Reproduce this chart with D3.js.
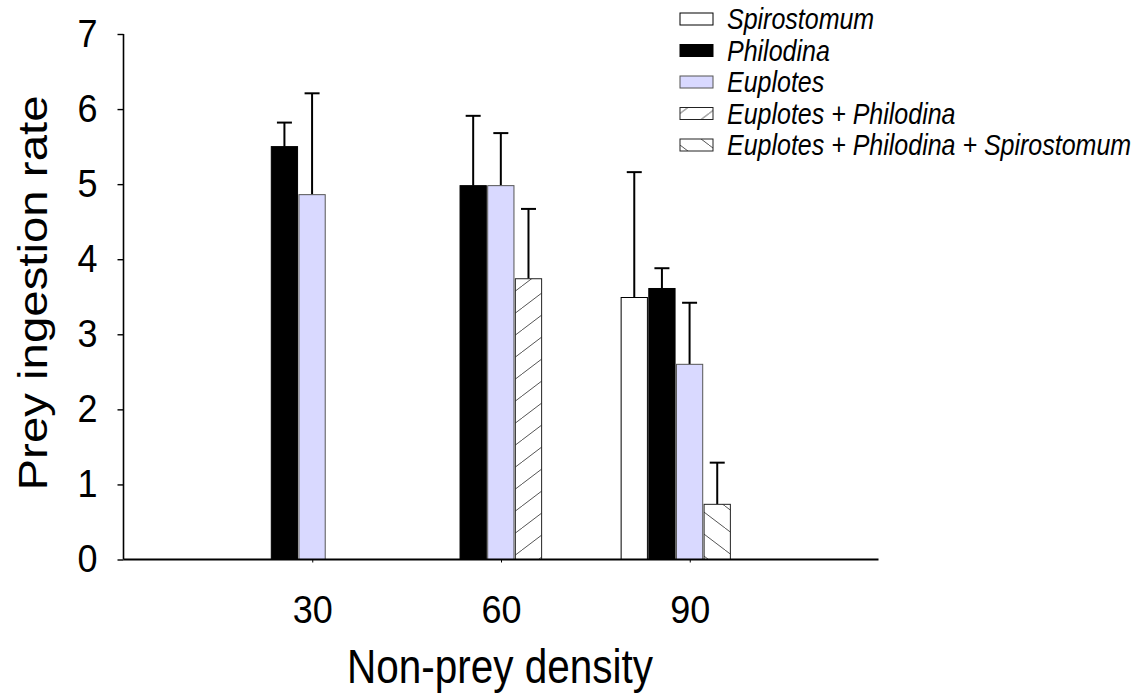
<!DOCTYPE html>
<html>
<head>
<meta charset="utf-8">
<script src="https://cdn.jsdelivr.net/npm/d3@7"></script>
<style>
  body { margin: 0; background: #fff; }
  text { font-family: Arial, "Liberation Sans", sans-serif; fill: #000; }
</style>
</head>
<body>
<svg id="chart" width="1139" height="695"></svg>
<script>
// data
const densities = [30, 60, 90];
const seriesNames = [
  "Spirostomum",
  "Philodina",
  "Euplotes",
  "Euplotes + Philodina",
  "Euplotes + Philodina + Spirostomum",
];
const spirostomum = [null, null, 3.49];
const philodina = [5.5, 4.98, 3.61];
const euplotes = [4.86, 4.98, 2.6];
const euplotesPhilodina = [null, 3.74, null];
const euplotesPhilodinaSpiro = [null, null, 0.735];
const spirostomumErr = [null, null, 1.67];
const philodinaErr = [0.32, 0.93, 0.27];
const euplotesErr = [1.35, 0.7, 0.82];
const euplotesPhilodinaErr = [null, 0.93, null];
const euplotesPhilodinaSpiroErr = [null, null, 0.555];
const yTicks = [0, 1, 2, 3, 4, 5, 6, 7];

const values = [spirostomum, philodina, euplotes, euplotesPhilodina, euplotesPhilodinaSpiro];
const errors = [spirostomumErr, philodinaErr, euplotesErr, euplotesPhilodinaErr, euplotesPhilodinaSpiroErr];
// both mixtures share the slot right of Euplotes
const slots = ["Spirostomum", "Philodina", "Euplotes", "mix", "mix"];
const fills = ["#ffffff", "#000000", "#d9d9ff", "url(#hatchUp)", "url(#hatchDown)"];
const strokes = ["#000", "#000", "#555", "#222", "#222"];

const svg = d3.select("#chart");
const stretch = "scale(1,1.17)"; // the original text is taller than it is wide

const x = d3.scaleLinear().domain([0, 120]).range([123.5, 878.5]);
const y = d3.scaleLinear().domain([0, 7]).range([559.5, 34]);
const inner = d3.scaleBand().domain(["Spirostomum", "Philodina", "Euplotes", "mix"]).range([-70, 42]).padding(0.05);

// hatch patterns
const defs = svg.append("defs");
defs.append("pattern")
  .attr("id", "hatchUp")
  .attr("patternUnits", "userSpaceOnUse")
  .attr("width", 29)
  .attr("height", 22)
  .call((p) => p.append("rect").attr("width", 29).attr("height", 22).attr("fill", "#fff"))
  .call((p) => p.append("line").attr("x1", 0).attr("y1", 22).attr("x2", 29).attr("y2", 0)
    .attr("stroke", "#555").attr("stroke-width", 1));
defs.append("pattern")
  .attr("id", "hatchDown")
  .attr("patternUnits", "userSpaceOnUse")
  .attr("width", 29)
  .attr("height", 22)
  .call((p) => p.append("rect").attr("width", 29).attr("height", 22).attr("fill", "#fff"))
  .call((p) => p.append("line").attr("x1", 0).attr("y1", 0).attr("x2", 29).attr("y2", 22)
    .attr("stroke", "#555").attr("stroke-width", 1));

// flatten to one record per bar
const bars = [];
seriesNames.forEach((name, s) => {
  densities.forEach((d, i) => {
    if (values[s][i] != null) bars.push({ name, s, d, v: values[s][i], e: errors[s][i] });
  });
});
const barX = (d) => x(d.d) + inner(slots[d.s]);
const midX = (d) => barX(d) + inner.bandwidth() / 2;

// error bars (drawn first, bars sit on top)
const err = svg.append("g").attr("stroke", "#000").attr("stroke-width", 2);
err.selectAll("line.stem")
  .data(bars)
  .enter()
  .append("line")
  .attr("x1", midX)
  .attr("x2", midX)
  .attr("y1", (d) => y(d.v))
  .attr("y2", (d) => y(d.v + d.e));
err.selectAll("line.cap")
  .data(bars)
  .enter()
  .append("line")
  .attr("x1", (d) => midX(d) - 7.5)
  .attr("x2", (d) => midX(d) + 7.5)
  .attr("y1", (d) => y(d.v + d.e))
  .attr("y2", (d) => y(d.v + d.e));

svg.append("g")
  .selectAll("rect")
  .data(bars)
  .enter()
  .append("rect")
  .attr("x", barX)
  .attr("y", (d) => y(d.v))
  .attr("width", inner.bandwidth())
  .attr("height", (d) => y(0) - y(d.v))
  .attr("fill", (d) => fills[d.s])
  .attr("stroke", (d) => strokes[d.s])
  .attr("stroke-width", 1);

// axes
const yAxis = svg.append("g")
  .attr("transform", `translate(${x(0)},0)`)
  .call(d3.axisLeft(y).tickValues(yTicks).tickSize(6).tickPadding(20).tickFormat(d3.format("d")));
yAxis.select(".domain").attr("stroke-width", 1.6).attr("d", `M0,${y(7)}V${y(0)}`);
yAxis.selectAll(".tick line").attr("stroke-width", 1.4);
yAxis.selectAll(".tick text")
  .attr("font-size", 36)
  .attr("font-family", "Arial, 'Liberation Sans', sans-serif")
  .attr("transform", "scale(1,1.08)");

const xAxis = svg.append("g")
  .attr("transform", `translate(0,${y(0)})`)
  .call(d3.axisBottom(x).tickValues(densities).tickSize(3).tickPadding(30));
xAxis.select(".domain").attr("stroke-width", 2).attr("d", `M${x(0)},0H${x(120)}`);
xAxis.selectAll(".tick text")
  .attr("font-size", 36)
  .attr("font-family", "Arial, 'Liberation Sans', sans-serif")
  .attr("transform", "scale(1,1.08)");

svg.append("text")
  .attr("transform", `translate(500,683) ${stretch}`)
  .attr("text-anchor", "middle")
  .attr("font-size", 40.5)
  .text("Non-prey density");

svg.append("text")
  .attr("transform", `translate(47,293) ${stretch} rotate(-90)`)
  .attr("text-anchor", "middle")
  .attr("font-size", 40.5)
  .text("Prey ingestion rate");

// legend
const legend = svg.append("g")
  .selectAll("g")
  .data(seriesNames)
  .enter()
  .append("g")
  .attr("transform", (d, i) => `translate(680,${19 + i * 31.5})`);
legend.append("rect")
  .attr("x", 0)
  .attr("y", -6)
  .attr("width", 33)
  .attr("height", 12)
  .attr("fill", (d, i) => fills[i])
  .attr("stroke", (d, i) => strokes[i])
  .attr("stroke-width", 1);
legend.append("text")
  .attr("transform", `translate(47,0) ${stretch}`)
  .attr("dy", "0.35em")
  .attr("font-size", 25)
  .attr("font-style", "italic")
  .text((d) => d);
</script>
</body>
</html>
